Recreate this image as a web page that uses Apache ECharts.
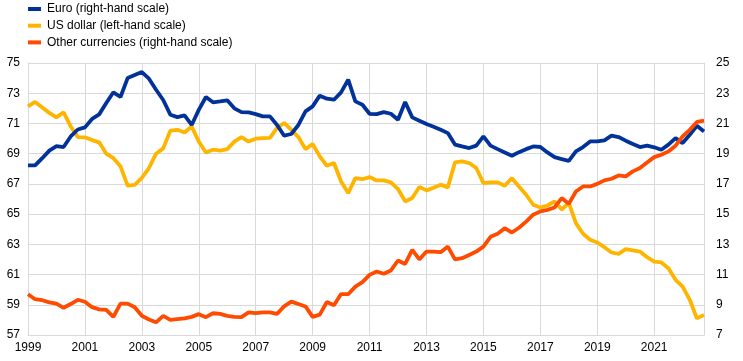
<!DOCTYPE html>
<html>
<head>
<meta charset="utf-8">
<script src="https://cdn.jsdelivr.net/npm/echarts@6/dist/echarts.min.js"></script>
<style>
html,body{margin:0;padding:0;background:#fff;}
#c{width:743px;height:361px;}
</style>
</head>
<body>
<div id="c"></div>
<script>
// Quarterly observations, 1999 Q1 – 2022 Q4
var startYear = 1999;
var endYear = 2022;
var quarters = ['Q1','Q2','Q3','Q4'];

// US dollar (left-hand scale)
var usDollar = [
  72.13, 72.42, 72.06, 71.7, 71.4, 71.73, 70.8, 70.1, 70.08, 69.9, 69.75, 69.0, 68.7, 68.16, 66.88, 66.94, 67.4, 68.05, 69.0, 69.35,
  70.52, 70.58, 70.4, 70.8, 69.8, 69.08, 69.26, 69.2, 69.3, 69.8, 70.1, 69.8, 69.99, 70.03, 70.05, 70.7, 71.03, 70.58, 70.1,
  69.3, 69.64, 68.82, 68.2, 68.38, 67.16, 66.39, 67.38, 67.31, 67.45, 67.23, 67.23, 67.1, 66.66, 65.84, 66.06, 66.8, 66.57, 66.75,
  66.95, 66.77, 68.42, 68.49, 68.38, 68.05, 67.05, 67.1, 67.1, 66.88, 67.38, 66.83, 66.28, 65.62, 65.44, 65.57, 65.84, 65.3, 65.75,
  64.4, 63.7, 63.3, 63.12, 62.81, 62.46, 62.37, 62.68, 62.6, 62.52, 62.15, 61.86, 61.8, 61.42, 60.65, 60.2, 59.33, 58.1, 58.33
];

// Euro (right-hand scale)
var euro = [
  18.22, 18.22, 18.7, 19.2, 19.5, 19.44, 20.14, 20.6, 20.74, 21.3, 21.6, 22.35, 23.06, 22.75, 24.0, 24.2, 24.4, 23.96, 23.23, 22.55,
  21.58, 21.42, 21.53, 20.9, 21.9, 22.75, 22.4, 22.46, 22.53, 22.0, 21.75, 21.73, 21.62, 21.47, 21.47, 20.9, 20.19, 20.3, 20.9,
  21.8, 22.13, 22.84, 22.64, 22.57, 23.06, 23.9, 22.46, 22.24, 21.64, 21.62, 21.75, 21.64, 21.25, 22.42, 21.4, 21.18, 20.96, 20.78,
  20.58, 20.36, 19.6, 19.48, 19.37, 19.53, 20.14, 19.53, 19.3, 19.08, 18.86, 19.1, 19.3, 19.48, 19.44, 19.08, 18.77, 18.64, 18.52,
  19.15, 19.44, 19.81, 19.81, 19.88, 20.19, 20.1, 19.86, 19.64, 19.44, 19.53, 19.42, 19.26, 19.6, 20.03, 19.7, 20.25, 20.85, 20.47
];

// Other currencies (right-hand scale)
var others = [
  9.7, 9.37, 9.3, 9.16, 9.07, 8.8, 9.05, 9.33, 9.2, 8.84, 8.7, 8.66, 8.2, 9.08, 9.08, 8.84, 8.27, 8.03, 7.84, 8.27,
  8.0, 8.05, 8.1, 8.2, 8.38, 8.18, 8.44, 8.4, 8.27, 8.2, 8.18, 8.5, 8.44, 8.5, 8.5, 8.4, 8.9, 9.21, 9.05,
  8.89, 8.2, 8.35, 9.18, 8.97, 9.71, 9.7, 10.2, 10.5, 10.98, 11.2, 11.05, 11.27, 11.93, 11.7, 12.63, 12.0, 12.52, 12.52,
  12.48, 12.85, 12.0, 12.08, 12.3, 12.52, 12.85, 13.5, 13.7, 14.07, 13.78, 14.1, 14.5, 14.96, 15.18, 15.28, 15.44, 16.06, 15.68,
  16.5, 16.83, 16.83, 17.0, 17.23, 17.34, 17.56, 17.5, 17.83, 18.05, 18.42, 18.77, 18.93, 19.15, 19.53, 20.14, 20.58, 21.1, 21.18
];

var seriesNames = ['Euro (right-hand scale)', 'US dollar (left-hand scale)', 'Other currencies (right-hand scale)'];
var colors = ['#003299', '#FFB400', '#FF4B00'];

var categories = [];
for (var y = startYear; y <= endYear; y++) {
  for (var q = 0; q < 4; q++) categories.push(y + ' ' + quarters[q]);
}

var gridColor = '#d9d9d9';
var labelStyle = { color: '#000', fontSize: 12, fontFamily: 'Liberation Sans, Arial, sans-serif' };

var chart = echarts.init(document.getElementById('c'), null, { renderer: 'canvas' });
chart.setOption({
  animation: false,
  backgroundColor: '#fff',
  color: colors,
  legend: {
    orient: 'vertical',
    left: 23,
    top: 2,
    padding: [0, 5, 5, 5],
    itemGap: 2.7,
    itemWidth: 13,
    itemHeight: 4,
    icon: 'rect',
    textStyle: { color: '#000', fontSize: 12, fontFamily: 'Liberation Sans, Arial, sans-serif', lineHeight: 14, padding: [0,0,0,1] },
    data: seriesNames
  },
  grid: { left: 28, right: 39, top: 63, bottom: 26, containLabel: false },
  xAxis: {
    type: 'category',
    data: categories,
    boundaryGap: false,
    axisLine: { show: true, lineStyle: { color: gridColor, width: 1 } },
    axisTick: { show: false },
    axisLabel: Object.assign({
      interval: function (i) { return i % 8 === 0; },
      formatter: function (v) { return v.slice(0, 4); },
      margin: 7
    }, labelStyle),
    splitLine: {
      show: true,
      interval: function (i) { return i % 8 === 0; },
      lineStyle: { color: gridColor, width: 1 }
    }
  },
  yAxis: [
    {
      type: 'value', min: 57, max: 75, interval: 2, position: 'left',
      axisLine: { show: true, lineStyle: { color: gridColor } },
      axisTick: { show: false },
      axisLabel: Object.assign({ margin: 8 }, labelStyle),
      splitLine: { show: true, lineStyle: { color: gridColor, width: 1 } }
    },
    {
      type: 'value', min: 7, max: 25, interval: 2, position: 'right',
      axisLine: { show: true, lineStyle: { color: gridColor } },
      axisTick: { show: false },
      axisLabel: Object.assign({ margin: 12 }, labelStyle),
      splitLine: { show: false }
    }
  ],
  series: [
    { name: seriesNames[0], type: 'line', yAxisIndex: 1, data: euro, showSymbol: false, lineStyle: { width: 3.8, color: colors[0] }, z: 3 },
    { name: seriesNames[1], type: 'line', yAxisIndex: 0, data: usDollar, showSymbol: false, lineStyle: { width: 3.8, color: colors[1] }, z: 2 },
    { name: seriesNames[2], type: 'line', yAxisIndex: 1, data: others, showSymbol: false, lineStyle: { width: 3.8, color: colors[2] }, z: 4 }
  ]
});
</script>
</body>
</html>
